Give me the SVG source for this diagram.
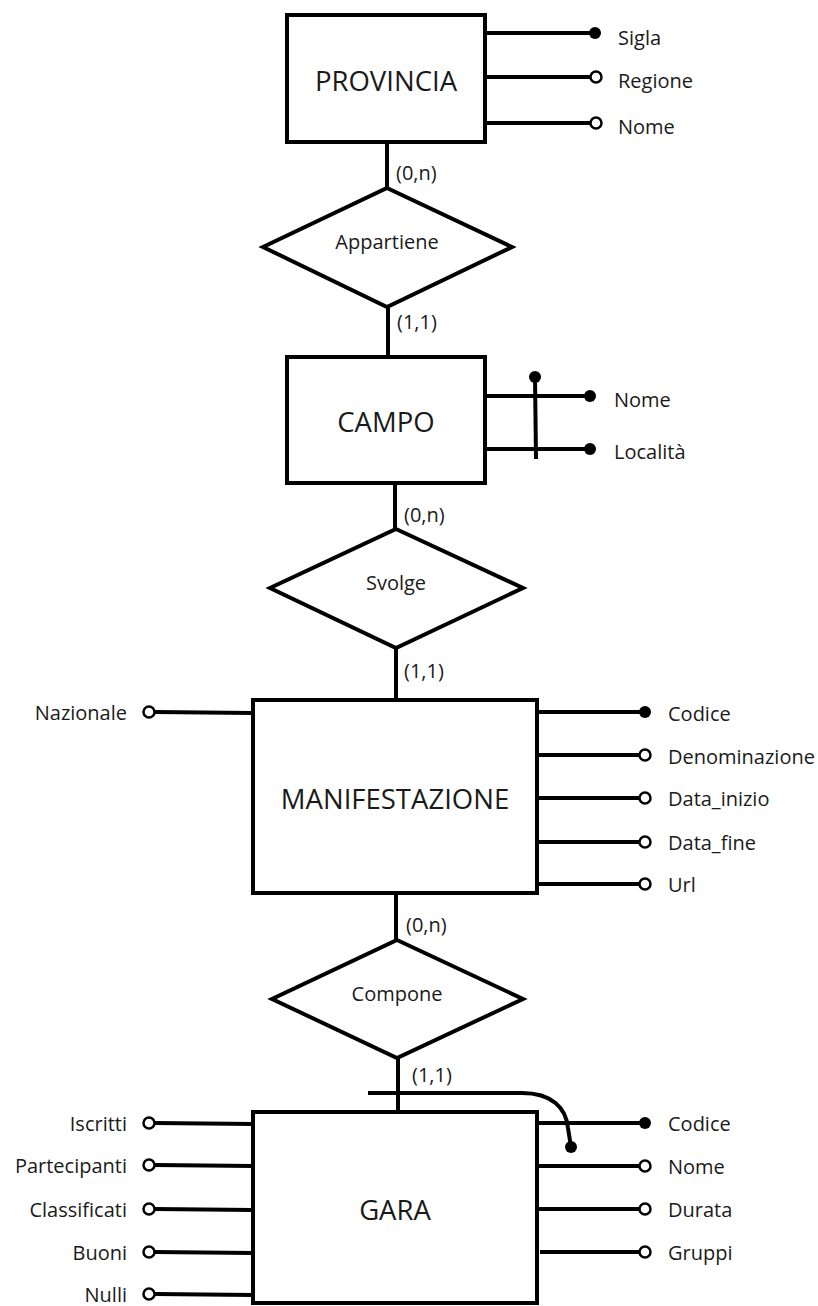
<svg xmlns="http://www.w3.org/2000/svg" width="818" height="1306" viewBox="0 0 818 1306">
<style>
.ent{fill:#fff;stroke:#000;stroke-width:4}
.rel{fill:#fff;stroke:#000;stroke-width:4;stroke-linejoin:miter}
.ln{stroke:#000;stroke-width:4;fill:none}
.op{fill:#fff;stroke:#000;stroke-width:2.5}
.fl{fill:#000}
text{font-family:"Open Sans","Noto Sans",sans-serif;fill:#1a1a1a}
.et{font-size:27.5px;text-anchor:middle}
.rt{font-size:20px;text-anchor:middle}
.at{font-size:20px}
.al{font-size:20px;text-anchor:end}
.cd{font-size:20px}
</style>
<rect width="818" height="1306" fill="#fff"/>
<g id="connectors">
<line class="ln" x1="387" y1="142" x2="387" y2="190"/>
<line class="ln" x1="388" y1="305" x2="388" y2="357"/>
<line class="ln" x1="395" y1="483" x2="395" y2="531"/>
<line class="ln" x1="396" y1="646" x2="396" y2="700"/>
<line class="ln" x1="396" y1="893" x2="396" y2="942"/>
<line class="ln" x1="398" y1="1056" x2="398" y2="1112"/>
<text class="cd" x="396" y="180">(0,n)</text>
<text class="cd" x="397" y="329">(1,1)</text>
<text class="cd" x="404" y="522">(0,n)</text>
<text class="cd" x="404" y="678">(1,1)</text>
<text class="cd" x="406" y="932">(0,n)</text>
<text class="cd" x="412" y="1082">(1,1)</text>
</g>
<g id="provincia">
<line class="ln" x1="485" y1="33" x2="595" y2="33"/><circle class="fl" cx="595" cy="33" r="6"/>
<line class="ln" x1="485" y1="77" x2="590" y2="77"/><circle class="op" cx="596" cy="77" r="5.5"/>
<line class="ln" x1="485" y1="123" x2="590" y2="123"/><circle class="op" cx="596" cy="123" r="5.5"/>
<text class="at" x="618" y="45">Sigla</text>
<text class="at" x="618" y="88">Regione</text>
<text class="at" x="618" y="134">Nome</text>
<rect class="ent" x="287" y="15" width="198" height="127"/>
<text class="et" x="386" y="91">PROVINCIA</text>
</g>
<g id="appartiene">
<polygon class="rel" points="387,188 512,247 387,307 263,247"/>
<text class="rt" x="387" y="249">Appartiene</text>
</g>
<g id="campo">
<line class="ln" x1="485" y1="396" x2="590" y2="396"/><circle class="fl" cx="590" cy="396" r="6"/>
<line class="ln" x1="485" y1="449" x2="590" y2="449"/><circle class="fl" cx="590" cy="449" r="6"/>
<line class="ln" x1="535" y1="377" x2="536" y2="459"/><circle class="fl" cx="535" cy="377" r="6"/>
<text class="at" x="614" y="407">Nome</text>
<text class="at" x="614" y="459">Località</text>
<rect class="ent" x="287" y="357" width="198" height="126"/>
<text class="et" x="386" y="432">CAMPO</text>
</g>
<g id="svolge">
<polygon class="rel" points="396,529 523,588 396,648 270,588"/>
<text class="rt" x="396" y="590">Svolge</text>
</g>
<g id="manifestazione">
<line class="ln" x1="155" y1="712" x2="253" y2="713"/><circle class="op" cx="149" cy="712" r="5.5"/>
<text class="al" x="127" y="720">Nazionale</text>
<line class="ln" x1="537" y1="712" x2="645" y2="712"/><circle class="fl" cx="645" cy="712" r="6"/>
<line class="ln" x1="537" y1="755" x2="639" y2="755"/><circle class="op" cx="645" cy="755" r="5.5"/>
<line class="ln" x1="537" y1="798" x2="639" y2="798"/><circle class="op" cx="645" cy="798" r="5.5"/>
<line class="ln" x1="537" y1="842" x2="639" y2="842"/><circle class="op" cx="645" cy="842" r="5.5"/>
<line class="ln" x1="537" y1="884" x2="639" y2="884"/><circle class="op" cx="645" cy="884" r="5.5"/>
<text class="at" x="668" y="721">Codice</text>
<text class="at" x="668" y="764">Denominazione</text>
<text class="at" x="668" y="806">Data_inizio</text>
<text class="at" x="668" y="850">Data_fine</text>
<text class="at" x="668" y="892">Url</text>
<rect class="ent" x="253" y="700" width="284" height="193"/>
<text class="et" x="395" y="809">MANIFESTAZIONE</text>
</g>
<g id="compone">
<polygon class="rel" points="397,940 523,999 397,1058 272,999"/>
<text class="rt" x="397" y="1001">Compone</text>
</g>
<g id="gara">
<line class="ln" x1="155" y1="1123" x2="253" y2="1124"/><circle class="op" cx="149" cy="1123" r="5.5"/>
<line class="ln" x1="155" y1="1165" x2="253" y2="1166"/><circle class="op" cx="149" cy="1165" r="5.5"/>
<line class="ln" x1="155" y1="1209" x2="253" y2="1210"/><circle class="op" cx="149" cy="1209" r="5.5"/>
<line class="ln" x1="155" y1="1252" x2="253" y2="1253"/><circle class="op" cx="149" cy="1252" r="5.5"/>
<line class="ln" x1="155" y1="1294" x2="253" y2="1295"/><circle class="op" cx="149" cy="1294" r="5.5"/>
<text class="al" x="127" y="1131">Iscritti</text>
<text class="al" x="127" y="1173">Partecipanti</text>
<text class="al" x="127" y="1217">Classificati</text>
<text class="al" x="127" y="1260">Buoni</text>
<text class="al" x="127" y="1302">Nulli</text>
<line class="ln" x1="537" y1="1123" x2="645" y2="1123"/><circle class="fl" cx="645" cy="1123" r="6"/>
<line class="ln" x1="537" y1="1166" x2="639" y2="1166"/><circle class="op" cx="645" cy="1166" r="5.5"/>
<line class="ln" x1="537" y1="1209" x2="639" y2="1209"/><circle class="op" cx="645" cy="1209" r="5.5"/>
<line class="ln" x1="540" y1="1252" x2="639" y2="1252"/><circle class="op" cx="645" cy="1252" r="5.5"/>
<text class="at" x="668" y="1131">Codice</text>
<text class="at" x="668" y="1174">Nome</text>
<text class="at" x="668" y="1217">Durata</text>
<text class="at" x="668" y="1260">Gruppi</text>
<rect class="ent" x="253" y="1112" width="284" height="191"/>
<text class="et" x="395" y="1220">GARA</text>
<path class="ln" d="M368,1093 H522 C552,1093 566,1108 568,1128 L571,1147"/>
<circle class="fl" cx="571" cy="1147" r="6"/>
</g>
</svg>
